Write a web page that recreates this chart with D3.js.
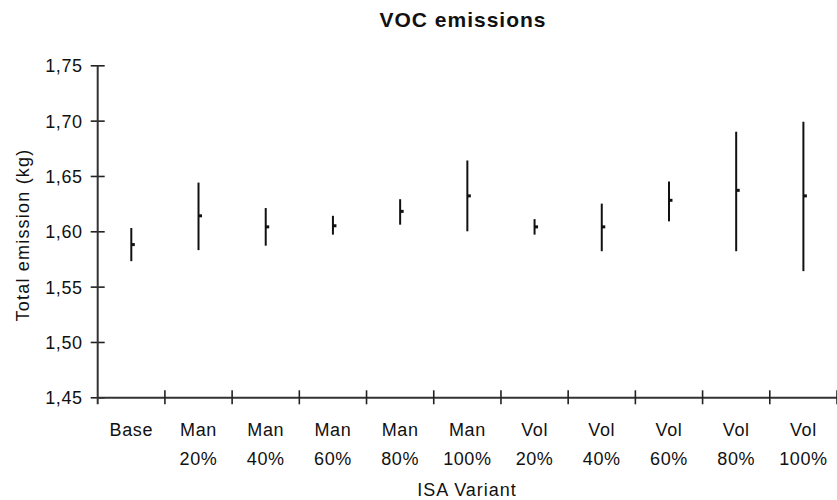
<!DOCTYPE html>
<html>
<head>
<meta charset="utf-8">
<script src="https://cdnjs.cloudflare.com/ajax/libs/d3/7.8.5/d3.min.js"></script>
<style>
  body { margin: 0; background: #fff; }
  text { font-family: 'Liberation Sans', Arial, Helvetica, sans-serif; fill: #111; }
</style>
</head>
<body>
<div id="chart-area"></div>
<script>
// ISA variants (label lines split on the space)
var categories = ['Base', 'Man 20%', 'Man 40%', 'Man 60%', 'Man 80%', 'Man 100%',
  'Vol 20%', 'Vol 40%', 'Vol 60%', 'Vol 80%', 'Vol 100%'];

// mean and range of total emission (kg)
var means = [1.588, 1.614, 1.604, 1.605, 1.618, 1.632, 1.604, 1.604, 1.628, 1.637, 1.632];
var lows = [1.573, 1.583, 1.587, 1.597, 1.606, 1.600, 1.597, 1.582, 1.609, 1.582, 1.564];
var highs = [1.603, 1.644, 1.621, 1.614, 1.629, 1.664, 1.611, 1.625, 1.645, 1.690, 1.699];

var yTicks = [1.45, 1.50, 1.55, 1.60, 1.65, 1.70, 1.75];

var data = categories.map(function(c, i) {
  return { cat: c, mean: means[i], low: lows[i], high: highs[i] };
});

var margin = { left: 97.7, right: 0, top: 65.3, bottom: 102.7 };
var width = 837 - margin.left - margin.right;
var height = 500 - margin.top - margin.bottom;

var svg = d3.select('#chart-area')
  .append('svg')
  .attr('width', 837)
  .attr('height', 500);

var g = svg.append('g')
  .attr('transform', 'translate(' + margin.left + ', ' + margin.top + ')');

// Scales
var x = d3.scaleBand()
  .domain(categories)
  .range([0, width]);

var y = d3.scaleLinear()
  .domain([1.45, 1.75])
  .range([height, 0]);

// Y Axis
var yAxisCall = d3.axisLeft(y)
  .tickValues(yTicks)
  .tickSizeOuter(0)
  .tickPadding(0)
  .tickFormat(function(d) {
    return d3.format('.2f')(d).replace('.', ',');
  });

var yAxisGroup = g.append('g')
  .attr('class', 'y-axis')
  .call(yAxisCall);

yAxisGroup.select('.domain').remove();
yAxisGroup.selectAll('.tick line')
  .attr('x1', -7)
  .attr('x2', 7)
  .attr('stroke', '#222')
  .attr('stroke-width', 1.6);
yAxisGroup.selectAll('.tick text')
  .attr('x', -15)
  .attr('dy', '0.36em')
  .attr('font-size', '18px')
  .attr('letter-spacing', '0.6px')
  .style('fill', '#111');

// y axis line runs down through the x axis
yAxisGroup.append('line')
  .attr('x1', 0)
  .attr('x2', 0)
  .attr('y1', y(1.75))
  .attr('y2', height + 7)
  .attr('stroke', '#333')
  .attr('stroke-width', 2);

// X Axis (ticks sit between categories)
var xAxisCall = d3.axisBottom(x)
  .tickSizeOuter(0)
  .tickFormat('');

var xAxisGroup = g.append('g')
  .attr('class', 'x-axis')
  .attr('transform', 'translate(0, ' + height + ')')
  .call(xAxisCall);

xAxisGroup.select('.domain')
  .attr('stroke', '#333')
  .attr('stroke-width', 2);
xAxisGroup.selectAll('.tick line')
  .attr('x1', x.step() / 2)
  .attr('x2', x.step() / 2)
  .attr('y1', -7)
  .attr('y2', 7)
  .attr('stroke', '#222')
  .attr('stroke-width', 1.6);

// category labels on two lines
var labels = xAxisGroup.selectAll('.tick text')
  .attr('y', 0)
  .attr('dy', null)
  .attr('font-size', '18px')
  .attr('letter-spacing', '0.6px')
  .style('fill', '#111');

labels.each(function(d) {
  var parts = d.split(' ');
  var t = d3.select(this);
  parts.forEach(function(p, i) {
    t.append('tspan')
      .attr('x', 0)
      .attr('y', 38.7 + i * 29)
      .text(p);
  });
});

// Error bars
var bars = g.selectAll('.bar')
  .data(data)
  .enter()
  .append('g')
    .attr('class', 'bar')
    .attr('transform', function(d) {
      return 'translate(' + (x(d.cat) + x.bandwidth() / 2) + ', 0)';
    });

bars.append('line')
  .attr('x1', 0)
  .attr('x2', 0)
  .attr('y1', function(d) { return y(d.high); })
  .attr('y2', function(d) { return y(d.low); })
  .attr('stroke', '#111')
  .attr('stroke-width', 2);

// mean marker
bars.append('rect')
  .attr('x', 0)
  .attr('y', function(d) { return y(d.mean) - 1.5; })
  .attr('width', 3.5)
  .attr('height', 3)
  .attr('fill', '#111');

// Title
svg.append('text')
  .attr('x', 463)
  .attr('y', 26.5)
  .attr('text-anchor', 'middle')
  .attr('font-size', '21px')
  .attr('font-weight', 'bold')
  .attr('letter-spacing', '1px')
  .text('VOC emissions');

// X Label
svg.append('text')
  .attr('x', 467)
  .attr('y', 496)
  .attr('text-anchor', 'middle')
  .attr('font-size', '18px')
  .attr('letter-spacing', '1px')
  .text('ISA Variant');

// Y Label
svg.append('text')
  .attr('x', -235)
  .attr('y', 29)
  .attr('text-anchor', 'middle')
  .attr('font-size', '18px')
  .attr('letter-spacing', '1.2px')
  .attr('transform', 'rotate(-90)')
  .text('Total emission (kg)');
</script>
</body>
</html>
